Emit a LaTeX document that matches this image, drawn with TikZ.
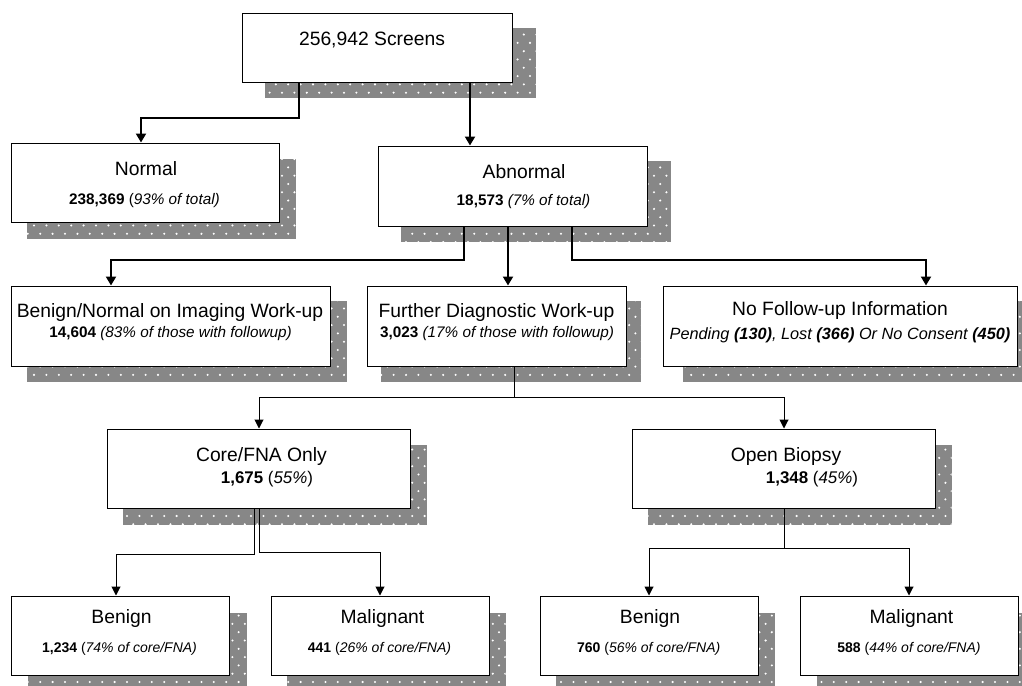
\documentclass[tikz,border=0pt]{standalone}
\usepackage{fontspec}
\setmainfont{Liberation Sans}
\usetikzlibrary{arrows.meta,patterns,backgrounds}
\pgfdeclarepatternformonly{whitedots}{\pgfqpoint{-2pt}{-2pt}}{\pgfqpoint{14pt}{18pt}}{\pgfqpoint{12.4pt}{16.6pt}}{%
  \pgfpathcircle{\pgfqpoint{3pt}{3pt}}{1.15pt}%
  \pgfpathcircle{\pgfqpoint{9.2pt}{11.3pt}}{1.15pt}%
  \pgfusepath{fill}}
\definecolor{shadowgray}{gray}{0.53}
\tikzset{
  boxnode/.style={draw=black, line width=1pt, fill=white, inner sep=0pt, rectangle},
  head/.style={anchor=base, inner sep=0pt, font=\fontsize{19.3}{23}\selectfont},
  subM/.style={anchor=base, inner sep=0pt, font=\fontsize{15.3}{18}\selectfont},
  subL/.style={anchor=base, inner sep=0pt, font=\fontsize{16.9}{20}\selectfont},
  subN/.style={anchor=base, inner sep=0pt, font=\fontsize{16.3}{20}\selectfont},
  subS/.style={anchor=base, inner sep=0pt, font=\fontsize{14}{17}\selectfont},
  thk/.style={line width=2pt, -{Triangle[width=10pt,length=9pt]}},
  thn/.style={line width=1pt, -{Triangle[width=9pt,length=9pt]}},
  shadowfill/.style={fill=shadowgray},
  shadowdots/.style={pattern=whitedots, pattern color=white},
}
\newcommand\boxshadow[3]{%
  \fill[shadowfill] ([shift={(#2,#3)}]#1.south west) rectangle ([shift={(#2,#3)}]#1.north east);
  \path[shadowdots] ([shift={(#2,#3)}]#1.south west) rectangle ([shift={(#2,#3)}]#1.north east);}
\begin{document}
\begin{tikzpicture}[x=1pt,y=-1pt]
\useasboundingbox (0,0) rectangle (1022,685);

% boxes
\node[boxnode, minimum width=270pt, minimum height=68pt] (top) at (377,48) {};
\node[boxnode, minimum width=268pt, minimum height=79pt] (normal) at (145,182.5) {};
\node[boxnode, minimum width=269pt, minimum height=80pt] (abnormal) at (512.5,186) {};
\node[boxnode, minimum width=319pt, minimum height=80pt] (bn) at (170.5,326) {};
\node[boxnode, minimum width=259pt, minimum height=80pt] (fd) at (496.5,326) {};
\node[boxnode, minimum width=354pt, minimum height=80pt] (nf) at (840,326) {};
\node[boxnode, minimum width=303pt, minimum height=79pt] (core) at (258.5,468.5) {};
\node[boxnode, minimum width=303pt, minimum height=79pt] (open) at (783.5,468.5) {};
\node[boxnode, minimum width=218pt, minimum height=79pt] (b1) at (120,635.5) {};
\node[boxnode, minimum width=218pt, minimum height=79pt] (m1) at (380,635.5) {};
\node[boxnode, minimum width=218pt, minimum height=79pt] (b2) at (649,635.5) {};
\node[boxnode, minimum width=218pt, minimum height=79pt] (m2) at (909,635.5) {};

% shadows
\begin{pgfonlayer}{background}
\fill[white] (0,0) rectangle (1022,685);
\boxshadow{top}{23}{15}
\boxshadow{normal}{16}{16}
\boxshadow{abnormal}{23}{15}
\boxshadow{bn}{16}{15}
\boxshadow{fd}{14}{15}
\boxshadow{nf}{20}{15}
\boxshadow{core}{16}{16}
\boxshadow{open}{16}{16}
\boxshadow{b1}{17}{17}
\boxshadow{m1}{16}{17}
\boxshadow{b2}{16}{17}
\boxshadow{m2}{17}{17}
\end{pgfonlayer}

% texts
\node[head] (top-a) at (372,46) {256,942 Screens};
\node[head] (normal-a) at (146,175) {Normal};
\node[subM] (normal-b) at (144.5,204) {\textbf{238,369} (\textit{93\% of total)}};
\node[head] (abnormal-a) at (524,178) {Abnormal};
\node[subM] (abnormal-b) at (523.5,205) {\textbf{18,573} \textit{(7\% of total)}};
\node[head] (bn-a) at (170,317) {Benign/Normal on Imaging Work-up};
\node[subM] (bn-b) at (170.5,337) {\textbf{14,604} \textit{(83\% of those with followup)}};
\node[head] (fd-a) at (496.5,317) {Further Diagnostic Work-up};
\node[subM] (fd-b) at (497,337) {\textbf{3,023} \textit{(17\% of those with followup)}};
\node[head] (nf-a) at (840,315) {No Follow-up Information};
\node[subN] (nf-b) at (840,339) {\textit{Pending \textbf{(130)}, Lost \textbf{(366)} Or No Consent \textbf{(450)}}};
\node[head] (core-a) at (261.5,461) {Core/FNA Only};
\node[subL] (core-b) at (267,483) {\textbf{1,675} (\textit{55\%})};
\node[head] (open-a) at (786,461) {Open Biopsy};
\node[subL] (open-b) at (812,483) {\textbf{1,348} (\textit{45\%})};
\node[head] (b1-a) at (121.5,623) {Benign};
\node[subS] (b1-b) at (119.5,652) {\textbf{1,234} (\textit{74\% of core/FNA)}};
\node[head] (m1-a) at (382.5,623) {Malignant};
\node[subS] (m1-b) at (379.5,652) {\textbf{441} (\textit{26\% of core/FNA)}};
\node[head] (b2-a) at (650,623) {Benign};
\node[subS] (b2-b) at (648.7,652) {\textbf{760} (\textit{56\% of core/FNA)}};
\node[head] (m2-a) at (911.5,623) {Malignant};
\node[subS] (m2-b) at (909,652) {\textbf{588} (\textit{44\% of core/FNA)}};

% connectors
\draw[thk] (top.south -| 299,0) -- (299,118) -| (normal.north -| 141,0);
\draw[thk] (top.south -| 470,0) -- (abnormal.north -| 470,0);
\draw[thk] (abnormal.south -| 464,0) -- (464,260) -| (bn.north -| 111,0);
\draw[thk] (abnormal.south -| 508,0) -- (fd.north -| 508,0);
\draw[thk] (abnormal.south -| 572,0) -- (572,260) -| (nf.north -| 926,0);

\coordinate (fdj) at (514,397);
\draw[thn] (fd.south -| 514,0) -- (fdj) -| (core.north -| 259,0);
\draw[thn] (fdj) -| (open.north -| 784,0);

\draw[thn] (core.south -| 254,0) -- (254,554) -| (b1.north -| 116,0);
\draw[thn] (core.south -| 259,0) -- (259,552) -| (m1.north -| 380,0);

\coordinate (opj) at (784,548);
\draw[thn] (open.south -| 784,0) -- (opj) -| (b2.north -| 649,0);
\draw[thn] (opj) -| (m2.north -| 909,0);
\end{tikzpicture}
\end{document}
